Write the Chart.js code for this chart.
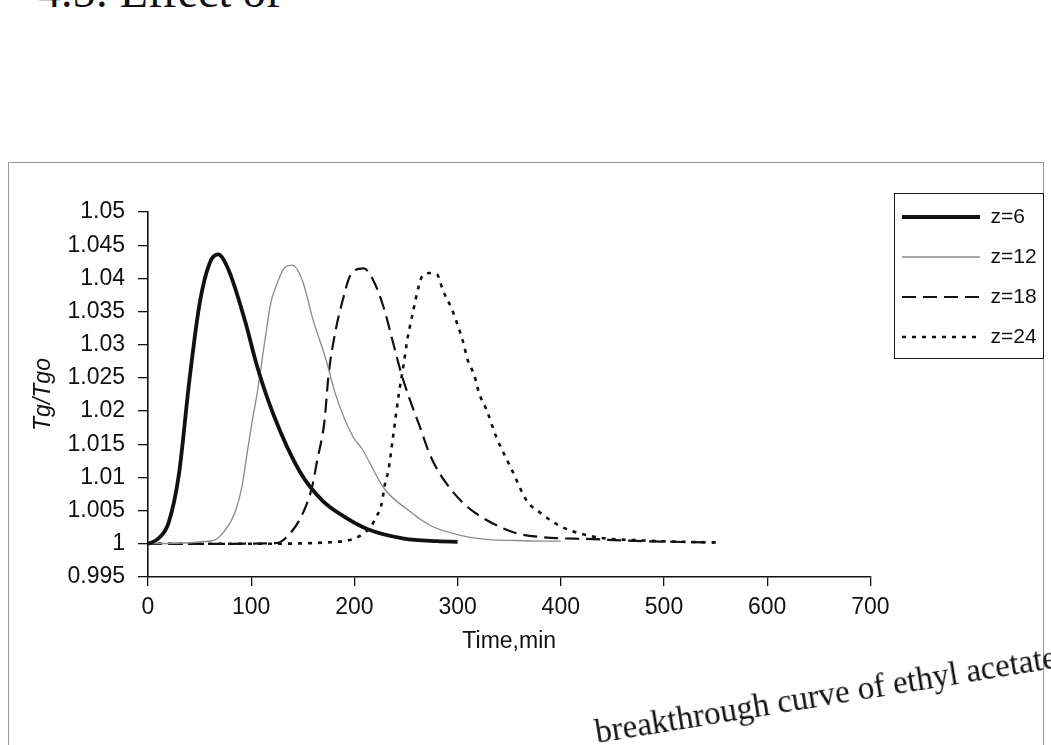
<!DOCTYPE html>
<html>
<head>
<meta charset="utf-8">
<script src="https://cdn.jsdelivr.net/npm/chart.js@4.4.0/dist/chart.umd.min.js"></script>
<style>
  html, body { margin: 0; padding: 0; background: #fff; }
  body { width: 1051px; height: 745px; overflow: hidden; position: relative; }
  #heading {
    position: absolute; left: 38px; top: -31px;
    font-family: "Liberation Serif", "DejaVu Serif", serif; font-size: 46px; line-height: 1;
    color: #111; white-space: nowrap;
  }
  #frame {
    position: absolute; left: 8px; top: 162px; width: 1036px; height: 700px;
    border: 1px solid #9a9a9a; box-sizing: border-box;
  }
  #c { position: absolute; left: 0; top: 0; }
  #caption {
    position: absolute; left: 598px; top: 716px;
    font-family: "Liberation Serif", "DejaVu Serif", serif; font-size: 33px; line-height: 1;
    color: #111; white-space: nowrap;
    transform-origin: 0 100%; transform: rotate(-9.3deg);
  }
</style>
</head>
<body>
<div id="heading">4.5: Effect of</div>
<div id="frame"></div>
<canvas id="c" width="1051" height="745"></canvas>
<div id="caption">breakthrough curve of ethyl acetate</div>
<script>
// Gas temperature ratio Tg/Tgo against time for four bed positions z.
const seriesLabels = ['z=6', 'z=12', 'z=18', 'z=24'];

const timeZ6 = [0, 10, 20, 30, 40, 50, 60, 68, 78, 94, 106, 122, 147, 169, 190, 213, 248, 280, 300];
const tgZ6   = [1.0, 1.0008, 1.0032, 1.0105, 1.0245, 1.0362, 1.0424, 1.0436, 1.0413, 1.0336, 1.0266,
                1.0193, 1.0109, 1.0065, 1.0041, 1.0022, 1.0008, 1.0004, 1.0003];

const timeZ12 = [0, 63, 75, 84, 91, 96, 101, 106, 114, 119, 124, 133, 140, 150, 160, 172, 181, 190,
                 200, 207, 229, 252, 273, 305, 334, 357, 381, 400];
const tgZ12   = [1.0, 1.0005, 1.0021, 1.0046, 1.0086, 1.0136, 1.0185, 1.0229, 1.0314, 1.0363, 1.0388,
                 1.0417, 1.042, 1.0395, 1.0337, 1.028, 1.0229, 1.019, 1.0158, 1.0144, 1.0083, 1.0051,
                 1.0028, 1.0012, 1.0006, 1.0005, 1.0004, 1.0004];

const timeZ18 = [0, 60, 124, 140, 152, 159, 164, 171, 175, 181, 188, 197, 209, 218, 228, 237, 245,
                 254, 264, 273, 283, 305, 328, 357, 382, 431, 480, 550];
const tgZ18   = [1.0, 1.0, 1.0001, 1.002, 1.0053, 1.0086, 1.0126, 1.0185, 1.0255, 1.0315, 1.0363,
                 1.0407, 1.0415, 1.0398, 1.0358, 1.0306, 1.0259, 1.0216, 1.0174, 1.0135, 1.0105,
                 1.0062, 1.0036, 1.0016, 1.001, 1.0007, 1.0004, 1.0002];

const timeZ24 = [0, 100, 172, 200, 210, 216, 221, 226, 230, 233, 237, 243, 248, 251, 254, 257, 262,
                 266, 273, 280, 286, 294, 300, 305, 310, 316, 321, 328, 338, 348, 353, 367, 380, 399,
                 431, 480, 550];
const tgZ24   = [1.0, 1.0, 1.0002, 1.0008, 1.0017, 1.0026, 1.004, 1.0058, 1.0093, 1.0111, 1.0156,
                 1.0225, 1.0273, 1.0305, 1.0329, 1.0351, 1.0386, 1.0404, 1.0408, 1.0406, 1.0381,
                 1.0355, 1.033, 1.0306, 1.0276, 1.0255, 1.0226, 1.0202, 1.0159, 1.0126, 1.011,
                 1.0065, 1.0047, 1.0027, 1.0011, 1.0005, 1.0002];

const timeTicks = { min: 0, max: 700, step: 100 };
const tgTicks   = { min: 0.995, max: 1.05, step: 0.005 };

const toPoints = (t, v) => t.map((x, i) => ({ x, y: v[i] }));

const SANS = '"Liberation Sans", Arial, sans-serif';
const axisFont = { family: SANS, size: 23 };

// Places the legend box to the right of the plot and frames it.
const legendFrame = {
  id: 'legendFrame',
  afterLayout(chart) {
    const lg = chart.legend;
    lg.left = 883; lg.top = 187.5;
    lg.right = lg.left + lg.width;
    lg.height = 200; lg.bottom = lg.top + lg.height;
  },
  afterDraw(chart) {
    const lg = chart.legend, ctx = chart.ctx;
    ctx.save();
    ctx.strokeStyle = '#1a1a1a';
    ctx.lineWidth = 1;
    ctx.strokeRect(Math.round(lg.left + 11) + 0.5, Math.round(lg.top + 5) + 0.5, 149, 165);
    ctx.restore();
  }
};

new Chart(document.getElementById('c'), {
  type: 'line',
  data: {
    datasets: [
      { label: seriesLabels[0], data: toPoints(timeZ6, tgZ6), borderColor: '#111', borderWidth: 3.8 },
      { label: seriesLabels[1], data: toPoints(timeZ12, tgZ12), borderColor: '#8a8a8a', borderWidth: 1.3 },
      { label: seriesLabels[2], data: toPoints(timeZ18, tgZ18), borderColor: '#111', borderWidth: 2.2, borderDash: [14, 7] },
      { label: seriesLabels[3], data: toPoints(timeZ24, tgZ24), borderColor: '#111', borderWidth: 2.6, borderDash: [4, 6] }
    ]
  },
  options: {
    responsive: false,
    animation: false,
    devicePixelRatio: 1,
    datasets: { line: { pointRadius: 0, fill: false, tension: 0.4, cubicInterpolationMode: 'monotone', backgroundColor: 'transparent' } },
    layout: { padding: { left: 0, right: 17, top: 212, bottom: 0 } },
    plugins: {
      tooltip: { enabled: false },
      legend: {
        position: 'right',
        align: 'start',
        labels: {
          usePointStyle: true,
          pointStyle: 'line',
          pointStyleWidth: 78,
          boxWidth: 78,
          padding: 19,
          color: '#111',
          font: { family: SANS, size: 21 },
          // legend samples carry each series' own stroke, width and dash
          generateLabels(chart) {
            const items = Chart.defaults.plugins.legend.labels.generateLabels(chart);
            items.forEach(it => {
              const ds = chart.data.datasets[it.datasetIndex];
              it.lineWidth = ds.borderWidth;
              it.lineDash = ds.borderDash || [];
              it.strokeStyle = ds.borderColor;
              it.fillStyle = 'transparent';
              it.pointStyle = 'line';
            });
            return items;
          }
        }
      }
    },
    scales: {
      x: {
        type: 'linear',
        min: timeTicks.min, max: timeTicks.max,
        afterFit(scale) { scale.height = 168; },
        ticks: { stepSize: timeTicks.step, color: '#111', font: axisFont, padding: 8, maxRotation: 0 },
        grid: { drawOnChartArea: false, drawTicks: true, tickLength: 9, color: '#111', lineWidth: 1.3 },
        border: { display: true, color: '#111', width: 1.6 },
        title: { display: true, text: 'Time,min', color: '#111', font: axisFont, padding: { top: 0, bottom: 90 } }
      },
      y: {
        min: tgTicks.min, max: tgTicks.max,
        afterFit(scale) { scale.width = 148; },
        ticks: {
          stepSize: tgTicks.step, color: '#111', font: axisFont, padding: 13,
          callback: v => String(parseFloat(Number(v).toFixed(3)))
        },
        grid: { drawOnChartArea: false, drawTicks: true, tickLength: 10, color: '#111', lineWidth: 1.3 },
        border: { display: true, color: '#111', width: 1.6 },
        title: { display: true, text: 'Tg/Tgo', color: '#111',
                 font: { family: SANS, size: 23, style: 'italic' },
                 padding: { top: 30, bottom: 0 } }
      }
    }
  },
  plugins: [legendFrame]
});
</script>
</body>
</html>
